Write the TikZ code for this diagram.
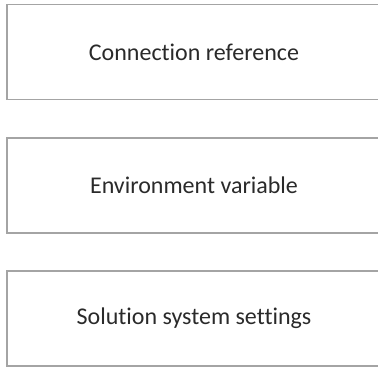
\documentclass[tikz,border=0pt]{standalone}
\usepackage{fontspec}
\setmainfont{Carlito}[Ligatures=NoCommon]
\usepackage{xcolor}
\usepackage{tikz}
\usetikzlibrary{positioning}

\definecolor{boxgray}{HTML}{A4A4A4}
\definecolor{txtgray}{HTML}{2A2A2A}

\begin{document}
\begin{tikzpicture}[x=1pt,y=-1pt,
  optbox/.style={rectangle,draw=boxgray,line width=1.4pt,minimum width=374pt,minimum height=95pt,inner sep=0pt,font=\fontsize{24}{28}\selectfont,text=txtgray}]
\useasboundingbox (0,0) rectangle (378,370);
\clip (0,0) rectangle (378,370);
\node[optbox] (conn) at (194,52) {Connection reference};
\node[optbox] (envvar) at (194,185.5) {Environment variable};
\node[optbox] (solset) at (194,318.5) {Solution system settings};
\end{tikzpicture}
\end{document}
